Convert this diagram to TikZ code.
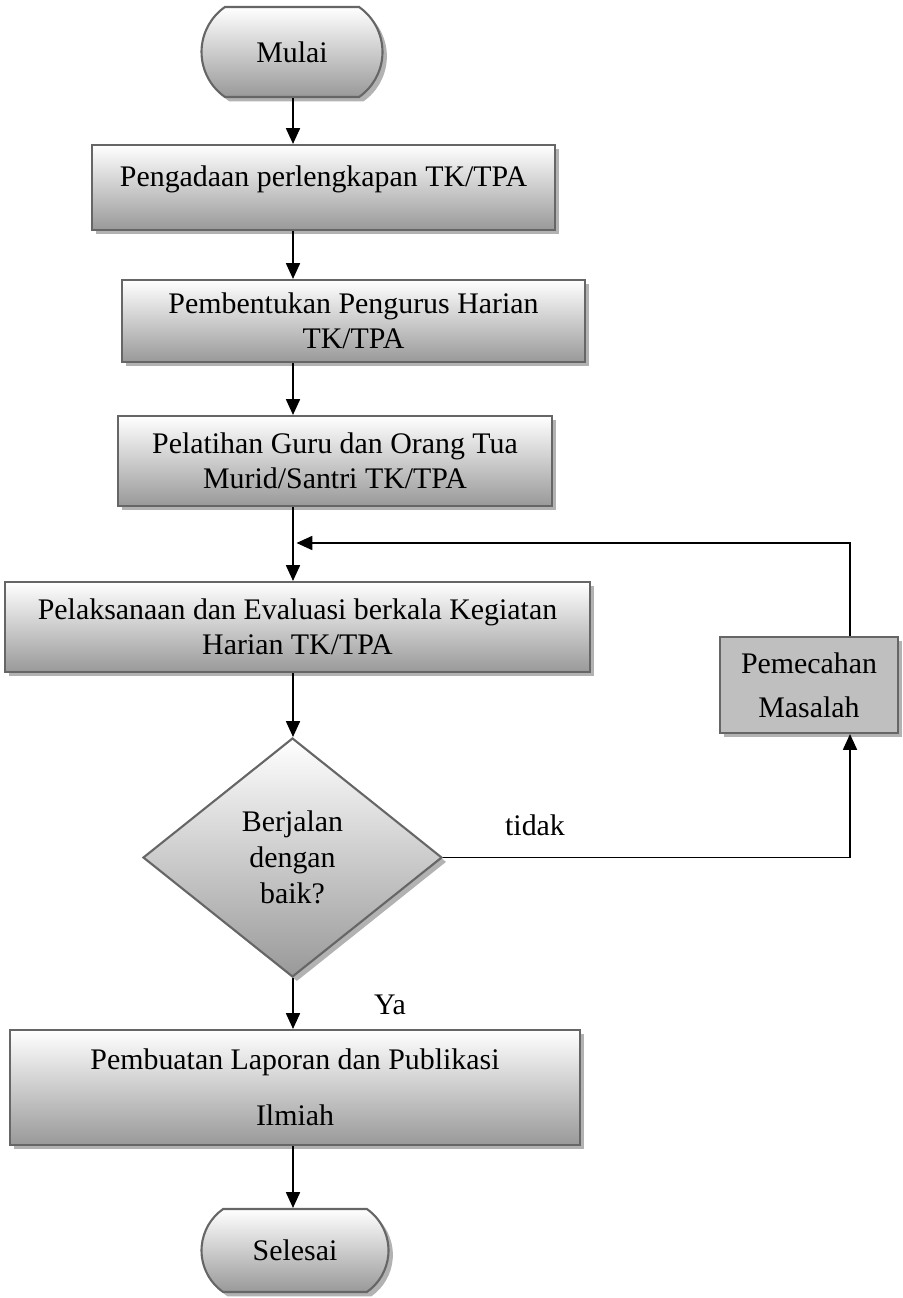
\documentclass[tikz,border=0pt]{standalone}
\usepackage{fontspec}
\setmainfont{Liberation Serif}
\usetikzlibrary{shapes.misc,shapes.geometric,shadows,arrows.meta}

\begin{document}
\begin{tikzpicture}[
    font=\fontsize{17}{20}\selectfont,
    kotak/.style={rectangle,draw=black!60,line width=1.2pt,align=center,inner sep=2pt,
      drop shadow={shadow xshift=2.5pt,shadow yshift=-2.5pt,fill=black!30,opacity=1}},
    langkah/.style={kotak,top color=white,bottom color=black!40},
    terminal/.style={langkah,rounded rectangle,rounded rectangle arc length=110},
    keputusan/.style={langkah,diamond,inner sep=0pt,font=\fontsize{17}{20.5}\selectfont},
    solusi/.style={kotak,fill=black!25},
    alur/.style={line width=0.9pt,-{Triangle[width=8pt,length=9pt]}},
  ]
  \useasboundingbox (0,0) rectangle (18.04,-25.96);
  \coordinate (jalur) at (5.86,0);
  \coordinate (balik) at (17.0,-10.86);

  % langkah utama
  \node[terminal,minimum width=3.76cm,minimum height=1.8cm] (mulai) at (5.84,-1.04) {Mulai};
  \node[langkah,minimum width=9.26cm,minimum height=1.7cm,text depth=0.45cm] (pengadaan) at (6.47,-3.75)
    {Pengadaan perlengkapan TK/TPA};
  \node[langkah,minimum width=9.26cm,minimum height=1.64cm] (pengurus) at (7.07,-6.42)
    {Pembentukan Pengurus Harian\\TK/TPA};
  \node[langkah,minimum width=8.68cm,minimum height=1.8cm] (pelatihan) at (6.70,-9.22)
    {Pelatihan Guru dan Orang Tua\\Murid/Santri TK/TPA};
  \node[langkah,minimum width=11.7cm,minimum height=1.8cm] (pelaksanaan) at (5.95,-12.54)
    {Pelaksanaan dan Evaluasi berkala Kegiatan\\Harian TK/TPA};
  \node[keputusan,minimum width=5.98cm,minimum height=4.78cm] (cek) at (5.85,-17.15)
    {Berjalan\\dengan\\baik?};
  \node[solusi,minimum width=3.56cm,minimum height=1.92cm] (pemecahan) at (16.18,-13.7)
    {Pemecahan\\[5pt]Masalah};
  \node[langkah,minimum width=11.4cm,minimum height=2.3cm] (laporan) at (5.9,-21.75)
    {Pembuatan Laporan dan Publikasi\\[12pt]Ilmiah};
  \node[terminal,minimum width=3.88cm,minimum height=1.66cm] (selesai) at (5.9,-25.01) {Selesai};

  % label cabang
  \node (tidak) at (10.7,-16.5) {tidak};
  \node (ya) at (7.8,-20.1) {Ya};

  % alur
  \draw[alur] (mulai.south -| jalur) -- (pengadaan.north -| jalur);
  \draw[alur] (pengadaan.south -| jalur) -- (pengurus.north -| jalur);
  \draw[alur] (pengurus.south -| jalur) -- (pelatihan.north -| jalur);
  \draw[alur] (pelatihan.south -| jalur) -- (pelaksanaan.north -| jalur);
  \draw[alur] (pelaksanaan.south -| jalur) -- (cek.north -| jalur);
  \draw[alur] (cek.south -| jalur) -- (laporan.north -| jalur);
  \draw[alur] (laporan.south -| jalur) -- (selesai.north -| jalur);
  \draw[alur] (cek.east) -- (cek.east -| balik) -- (pemecahan.south -| balik);
  \draw[alur] (pemecahan.north -| balik) -- (balik) -- ([xshift=2pt]jalur |- balik);
\end{tikzpicture}
\end{document}
